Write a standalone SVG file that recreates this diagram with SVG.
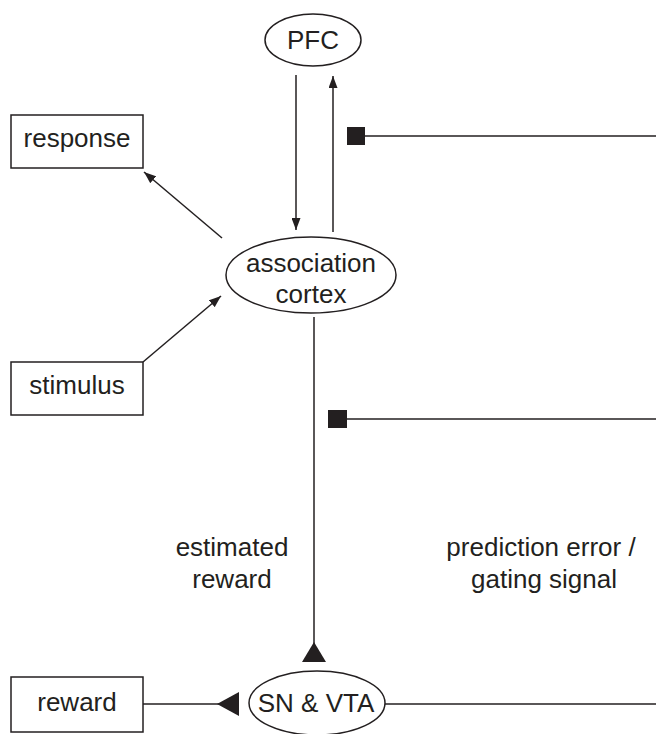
<svg xmlns="http://www.w3.org/2000/svg" width="656" height="734" viewBox="0 0 656 734">
<defs>
<style>
.n{fill:#fff;stroke:#231f20;stroke-width:1.5}
.t{font-family:"Liberation Sans",Arial,sans-serif;font-size:26px;fill:#231f20;text-anchor:middle}
.c{fill:none;stroke:#231f20;stroke-width:1.5}
.f{fill:#231f20;stroke:none}
</style>
<marker id="ah" viewBox="0 0 12 9" refX="12" refY="4.5" markerWidth="12" markerHeight="9" markerUnits="userSpaceOnUse" orient="auto">
<path d="M0,0 L12,4.5 L0,9 Z" fill="#231f20"/>
</marker>
</defs>
<rect width="656" height="734" fill="#fff"/>
<g id="connectors">
<line class="c" x1="296" y1="75" x2="296" y2="230" marker-end="url(#ah)"/>
<line class="c" x1="333" y1="232" x2="333" y2="76" marker-end="url(#ah)"/>
<line class="c" x1="222" y1="238" x2="144" y2="172" marker-end="url(#ah)"/>
<line class="c" x1="143" y1="362" x2="221" y2="296" marker-end="url(#ah)"/>
<line class="c" x1="365" y1="136" x2="656" y2="136"/>
<rect class="f" x="347" y="127" width="18" height="18"/>
<line class="c" x1="347" y1="419" x2="656" y2="419"/>
<rect class="f" x="328" y="410" width="19" height="18"/>
<line class="c" x1="314" y1="317" x2="314" y2="645"/>
<path class="f" d="M314,642 L326,662 L302,662 Z"/>
<line class="c" x1="143" y1="704" x2="220" y2="704"/>
<path class="f" d="M217,704 L239,692 L239,716 Z"/>
<line class="c" x1="385" y1="704" x2="656" y2="704"/>
</g>
<g id="pfc">
<ellipse class="n" cx="313" cy="40" rx="48" ry="26"/>
<text class="t" x="313" y="49">PFC</text>
</g>
<g id="response">
<rect class="n" x="11" y="115" width="132" height="53"/>
<text class="t" x="77" y="147">response</text>
</g>
<g id="association-cortex">
<ellipse class="n" cx="311" cy="275" rx="85" ry="38"/>
<text class="t" x="311" y="272">association</text>
<text class="t" x="311" y="303">cortex</text>
</g>
<g id="stimulus">
<rect class="n" x="11" y="362" width="132" height="53"/>
<text class="t" x="77" y="394">stimulus</text>
</g>
<g id="reward">
<rect class="n" x="11" y="677" width="132" height="55"/>
<text class="t" x="77" y="711">reward</text>
</g>
<g id="sn-vta">
<ellipse class="n" cx="317" cy="703" rx="68" ry="32"/>
<text class="t" x="316" y="712">SN &amp; VTA</text>
</g>
<g id="labels">
<text class="t" x="232" y="556">estimated</text>
<text class="t" x="232" y="588">reward</text>
<text class="t" x="541" y="556">prediction error /</text>
<text class="t" x="544" y="588">gating signal</text>
</g>
</svg>
